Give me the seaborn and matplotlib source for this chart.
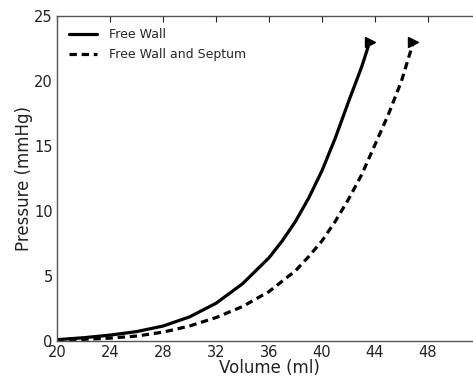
import matplotlib
matplotlib.use("Agg")
import matplotlib.pyplot as plt
import seaborn as sns
import pandas as pd

# Data
free_wall_volume = [20, 22, 24, 26, 28, 30, 32, 34, 36, 37, 38, 39, 40, 41, 42, 43, 43.6]
free_wall_pressure = [0.1, 0.25, 0.45, 0.72, 1.15, 1.85, 2.9, 4.4, 6.4, 7.7, 9.2, 11.0, 13.1, 15.6, 18.4, 21.1, 23.0]

septum_volume = [20, 22, 24, 26, 28, 30, 32, 34, 36, 38, 39, 40, 41, 42, 43, 44, 45, 46, 46.9]
septum_pressure = [0.05, 0.12, 0.22, 0.38, 0.68, 1.15, 1.8, 2.65, 3.8, 5.4, 6.5, 7.7, 9.2, 10.9, 12.8, 15.1, 17.4, 20.0, 23.0]

series_labels = ["Free Wall", "Free Wall and Septum"]
x_ticks = [20, 24, 28, 32, 36, 40, 44, 48]
y_ticks = [0, 5, 10, 15, 20, 25]

sns.set_style("white")
plt.rcParams["font.family"] = ["DejaVu Sans"]

fig = plt.figure(figsize=(4.73, 3.83), dpi=100)
ax = fig.add_axes([0.1205, 0.1097, 0.8964, 0.8486])

df1 = pd.DataFrame({"Volume": free_wall_volume, "Pressure": free_wall_pressure})
df2 = pd.DataFrame({"Volume": septum_volume, "Pressure": septum_pressure})

sns.lineplot(data=df1, x="Volume", y="Pressure", ax=ax, color="black",
             linewidth=2.3, label=series_labels[0], sort=False)
sns.lineplot(data=df2, x="Volume", y="Pressure", ax=ax, color="black",
             linewidth=2.3, linestyle=(0, (2.3, 1.5)), label=series_labels[1], sort=False)

# arrow-head markers at the end of each curve
ax.plot([free_wall_volume[-1]], [free_wall_pressure[-1]], marker=">", color="black",
        markersize=7.5, linestyle="none")
ax.plot([septum_volume[-1]], [septum_pressure[-1]], marker=">", color="black",
        markersize=7.5, linestyle="none")

ax.set_xlim(20, 52)
ax.set_ylim(0, 25)
ax.set_xticks(x_ticks)
ax.set_yticks(y_ticks)
ax.tick_params(direction="in", top=True, right=True, length=4, width=0.8,
               labelsize=10.5, colors="#222222", pad=3)
for s in ax.spines.values():
    s.set_color("#555555")
    s.set_linewidth(1.0)

ax.set_xlabel("Volume (ml)", fontsize=12, labelpad=-1, color="#222222")
ax.set_ylabel("Pressure (mmHg)", fontsize=12, labelpad=1, color="#222222")

leg = ax.legend(loc="upper left", frameon=False, fontsize=9, handlelength=2.2,
                handletextpad=1.0, borderaxespad=0.6, labelspacing=0.55)

fig.savefig("out.png", dpi=100)
